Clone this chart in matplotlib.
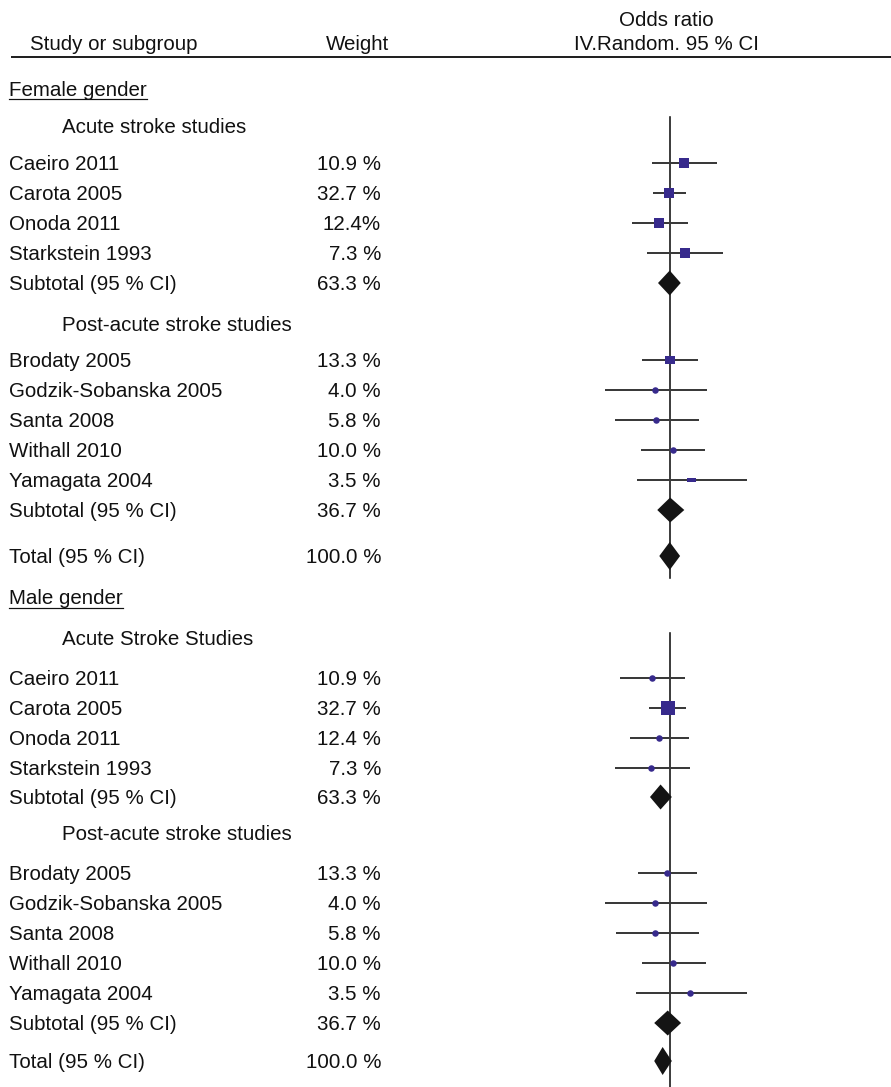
import numpy as np
import matplotlib
matplotlib.use("Agg")
import matplotlib.pyplot as plt

plt.rcParams['font.family'] = ['Liberation Sans', 'DejaVu Sans']

# ---------------- data ----------------
studies = ["Caeiro 2011", "Carota 2005", "Onoda 2011", "Starkstein 1993",
           "Brodaty 2005", "Godzik-Sobanska 2005", "Santa 2008", "Withall 2010", "Yamagata 2004"]
weights_f = ["10.9 %", "32.7 %", "12.4%", "7.3 %", "13.3 %", "4.0 %", "5.8 %", "10.0 %", "3.5 %"]
weights_m = ["10.9 %", "32.7 %", "12.4 %", "7.3 %", "13.3 %", "4.0 %", "5.8 %", "10.0 %", "3.5 %"]
sub_weights = ["63.3 %", "36.7 %"]
total_weight = "100.0 %"

# Female gender odds ratios (95% CI)
or_f = [1.39, 0.99, 0.78, 1.43, 1.01, 0.72, 0.73, 1.07, 1.64]
lo_f = [0.665, 0.686, 0.423, 0.597, 0.528, 0.227, 0.284, 0.52, 0.474]
hi_f = [2.99, 1.46, 1.51, 3.44, 1.91, 2.36, 1.95, 2.25, 5.97]
sub_or_f = [1.00, 1.01]
sub_lo_f = [0.764, 0.751]
sub_hi_f = [1.29, 1.40]
tot_f = [1.00, 0.787, 1.27]

# Male gender odds ratios (95% CI)
or_m = [0.67, 0.96, 0.78, 0.65, 0.94, 0.71, 0.72, 1.08, 1.61]
lo_m = [0.32, 0.625, 0.40, 0.286, 0.485, 0.225, 0.29, 0.525, 0.46]
hi_m = [1.43, 1.45, 1.55, 1.58, 1.86, 2.38, 1.96, 2.29, 5.89]
sub_or_m = [0.81, 0.955]
sub_lo_m = [0.635, 0.70]
sub_hi_m = [1.05, 1.30]
tot_m = [0.85, 0.70, 1.05]

# ---------------- styles ----------------
rect_marker = [(-1, -0.55), (1, -0.55), (1, 0.55), (-1, 0.55), (-1, -0.55)]
rect2_marker = [(-1, -0.8), (1, -0.8), (1, 0.8), (-1, 0.8), (-1, -0.8)]
# (marker, size in px)
mk_f = [('s', 10), ('s', 10.5), ('s', 10), ('s', 10), (rect2_marker, 10),
        ('o', 6.5), ('o', 6.5), ('o', 6.5), (rect_marker, 9)]
mk_m = [('o', 6.5), ('s', 13.5), ('o', 6.5), ('o', 6.5), ('o', 6.5),
        ('o', 6.5), ('o', 6.5), ('o', 6.5), ('o', 6.5)]

W, H = 891, 1087
DPI = 100
PX = 72.0 / DPI
fig = plt.figure(figsize=(W / DPI, H / DPI), dpi=DPI)
ax = fig.add_axes([0, 0, 1, 1])
ax.set_xlim(0, W)
ax.set_ylim(H, 0)
ax.axis('off')

# forest axes (log scale), OR=1 at x=669.7px, 100 px per decade
fl, fr = 560, 800
ref_x = 669.7
fax = fig.add_axes([fl / W, 0, (fr - fl) / W, 1])
fax.set_xscale('log')
fax.set_xlim(10 ** ((fl - ref_x) / 100), 10 ** ((fr - ref_x) / 100))
fax.set_ylim(H, 0)
fax.axis('off')

FS = 14.8
mcol = '#372a8c'
lcol = '#3a3a3a'
dcol = '#141414'
tcol = '#111111'

# header
ax.text(30, 50.5, "Study or subgroup", fontsize=FS, ha='left', va='baseline', color=tcol)
ax.text(358, 50.5, "Weight", fontsize=FS, ha='center', va='baseline', color=tcol)
ax.text(666, 26, "Odds ratio", fontsize=FS, ha='center', va='baseline', color=tcol)
ax.text(666, 50.5, "IV.Random. 95 % CI", fontsize=FS, ha='center', va='baseline', color=tcol)
ax.plot([12, W], [57, 57], color='#222222', lw=2 * PX)

# layout of rows (pixel y-centres)
female_rows = [163, 193, 223, 253, 360, 390, 420, 450, 480]
female_sub = [283, 510]
female_tot = 556
female_heads = [(88.7, "Female gender", 9, True), (126, "Acute stroke studies", 62, False),
                (324, "Post-acute stroke studies", 62, False)]
female_vline = (117, 578)

male_rows = [678, 708, 738, 768, 873, 903, 933, 963, 993]
male_sub = [797, 1023]
male_tot = 1061
male_heads = [(597, "Male gender", 9, True), (638, "Acute Stroke Studies", 62, False),
              (833, "Post-acute stroke studies", 62, False)]
male_vline = (633, 1087)

fax.plot([1, 1], female_vline, color='#111111', lw=1.6 * PX, zorder=1)
fax.plot([1, 1], male_vline, color='#111111', lw=1.6 * PX, zorder=1)

underline_texts = []


def text_row(y, label, weight):
    ax.text(9, y + 7, label, fontsize=FS, ha='left', va='baseline', color=tcol)
    ax.text(381, y + 7, weight, fontsize=FS, ha='right', va='baseline', color=tcol)


def diamond(y, pt, lo, hi, h):
    fax.fill([lo, pt, hi, pt, lo], [y, y - h / 2, y, y + h / 2, y],
             color=dcol, lw=0, zorder=4)


def block(rows, subs, tot, heads, ors, los, his, mks, weights, sub_or, sub_lo, sub_hi, totv):
    for (y, t, x, ul) in heads:
        tt = ax.text(x, y + 7, t, fontsize=FS, ha='left', va='baseline', color=tcol)
        if ul:
            underline_texts.append((tt, y + 9))
    for i, y in enumerate(rows):
        text_row(y, studies[i], weights[i])
        fax.plot([los[i], his[i]], [y, y], color=lcol, lw=2.0 * PX, zorder=2,
                 solid_capstyle='butt')
        m, s = mks[i]
        fax.plot([ors[i]], [y], marker=m, markersize=s * PX, color=mcol,
                 markeredgewidth=0, linestyle='none', zorder=3)
    for j, y in enumerate(subs):
        text_row(y, "Subtotal (95 % CI)", sub_weights[j])
        diamond(y, sub_or[j], sub_lo[j], sub_hi[j], 25)
    text_row(tot, "Total (95 % CI)", total_weight)
    diamond(tot, totv[0], totv[1], totv[2], 28)


block(female_rows, female_sub, female_tot, female_heads, or_f, lo_f, hi_f, mk_f,
      weights_f, sub_or_f, sub_lo_f, sub_hi_f, tot_f)
block(male_rows, male_sub, male_tot, male_heads, or_m, lo_m, hi_m, mk_m,
      weights_m, sub_or_m, sub_lo_m, sub_hi_m, tot_m)

fig.canvas.draw()
inv = ax.transData.inverted()
for tt, yu in underline_texts:
    bb = tt.get_window_extent()
    x0 = inv.transform((bb.x0, 0))[0]
    x1 = inv.transform((bb.x1, 0))[0]
    ax.plot([x0, x1], [yu + 1.5, yu + 1.5], color='#111111', lw=1.2 * PX)

fig.savefig("out.png", dpi=DPI)
